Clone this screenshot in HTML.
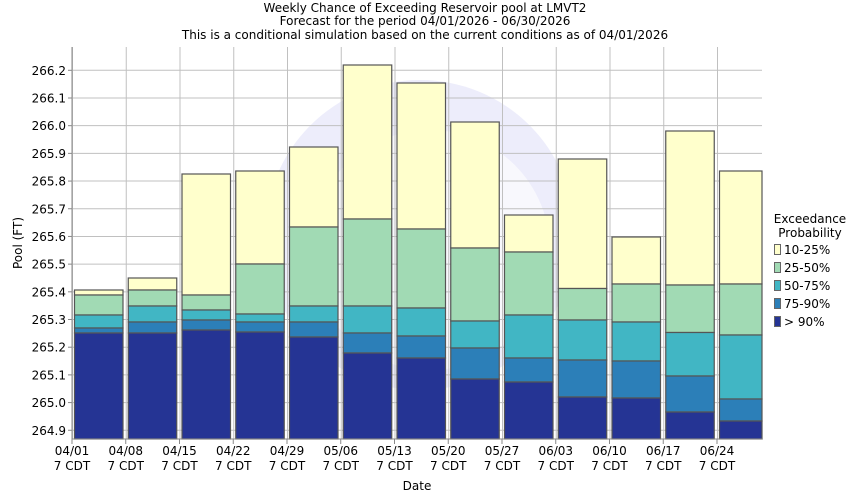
<!DOCTYPE html>
<html><head><meta charset="utf-8"><style>body{margin:0;background:#fff}svg{display:block}text{font-family:"DejaVu Sans","Liberation Sans",sans-serif;fill:#000}</style></head><body>
<svg width="850" height="500" viewBox="0 0 850 500" xmlns="http://www.w3.org/2000/svg">
<rect width="850" height="500" fill="#fff"/>
<text x="425" y="12" font-size="12" text-anchor="middle">Weekly Chance of Exceeding Reservoir pool at LMVT2</text>
<text x="425" y="25" font-size="12" text-anchor="middle">Forecast for the period 04/01/2026 - 06/30/2026</text>
<text x="425" y="39" font-size="12" text-anchor="middle">This is a conditional simulation based on the current conditions as of 04/01/2026</text>
<rect x="72" y="47" width="690" height="392" fill="#fff"/>
<circle cx="420" cy="235" r="155" fill="#e8e8fa" opacity="0.8"/>
<circle cx="430" cy="250" r="120" fill="#fff" opacity="0.6"/>
<g stroke="#c0c0c0" stroke-width="1" id="grid"></g>
<g id="bars" stroke-width="1.2"></g>
<line x1="72" y1="47" x2="72" y2="439" stroke="#888"/>
<line x1="72" y1="439" x2="762" y2="439" stroke="#888"/>
<g id="ylab" font-size="12"></g>
<g id="xlab" font-size="12"></g>
<text x="417" y="490" font-size="12" text-anchor="middle">Date</text>
<text x="22" y="243" font-size="12" text-anchor="middle" transform="rotate(-90 22 243)">Pool (FT)</text>
<g font-size="12">
<text x="810" y="223" text-anchor="middle">Exceedance</text>
<text x="810" y="237" text-anchor="middle">Probability</text>
<rect x="774.5" y="244.5" width="6" height="10" fill="#ffffcc" stroke="#666"/><text x="784" y="254">10-25%</text>
<rect x="774.5" y="262.5" width="6" height="10" fill="#a1dab4" stroke="#666"/><text x="784" y="272">25-50%</text>
<rect x="774.5" y="280.5" width="6" height="10" fill="#41b6c4" stroke="#666"/><text x="784" y="290">50-75%</text>
<rect x="774.5" y="298.5" width="6" height="10" fill="#2c7fb8" stroke="#666"/><text x="784" y="308">75-90%</text>
<rect x="774.5" y="316.5" width="6" height="10" fill="#253494" stroke="#666"/><text x="784" y="326">&gt; 90%</text>
</g>
<script>
var ns="http://www.w3.org/2000/svg";
function el(p,t,a,txt){var e=document.createElementNS(ns,t);for(var k in a)e.setAttribute(k,a[k]);if(txt)e.textContent=txt;document.getElementById(p).appendChild(e);}
function y(v){return 70.3+(266.2-v)*276.9;}
var step=53.75;
for(var i=0;i<13;i++){var x=72+i*step;el("grid","line",{x1:x+0.5,y1:47,x2:x+0.5,y2:439});}
for(var j=0;j<=13;j++){var v=264.9+j*0.1;var yy=y(v);el("grid","line",{x1:72,y1:yy,x2:762,y2:yy});el("ylab","text",{x:66,y:yy+4.5,"text-anchor":"end"},v.toFixed(1));el("ylab","line",{x1:68,y1:yy,x2:72,y2:yy,stroke:"#888"});}
var dates=["04/01","04/08","04/15","04/22","04/29","05/06","05/13","05/20","05/27","06/03","06/10","06/17","06/24"];
for(var i=0;i<13;i++){var x=72+i*step;el("xlab","text",{x:x,y:455,"text-anchor":"middle"},dates[i]);el("xlab","text",{x:x,y:470,"text-anchor":"middle"},"7 CDT");el("xlab","line",{x1:x,y1:439,x2:x,y2:444,stroke:"#888"});}
var d=[[290,295,315,328,333],[278,290,306,322,333],[174,295,310,320,330],[171,264,314,322,332],[147,227,306,322,337],[65,219,306,333,353],[83,229,308,336,358],[122,248,321,348,379],[215,252,315,358,382],[159,288.5,320,360,397],[237,284,322,361,398],[131,285,332.5,376,412],[171,284,335,399,421]];
var cols=["#ffffcc","#a1dab4","#41b6c4","#2c7fb8","#253494"];
var strokes=["#666","#446","#335","#224","#112"];
for(var i=0;i<13;i++){var x0=72+i*step+2.5;var w=(i==12)?(762-x0):48.5;
for(var k=0;k<5;k++){var t=d[i][k],b=(k<4)?d[i][k+1]:439;el("bars","rect",{x:x0,y:t,width:w,height:b-t,fill:cols[k],stroke:"#555"});}}
</script>
</svg>
</body></html>
